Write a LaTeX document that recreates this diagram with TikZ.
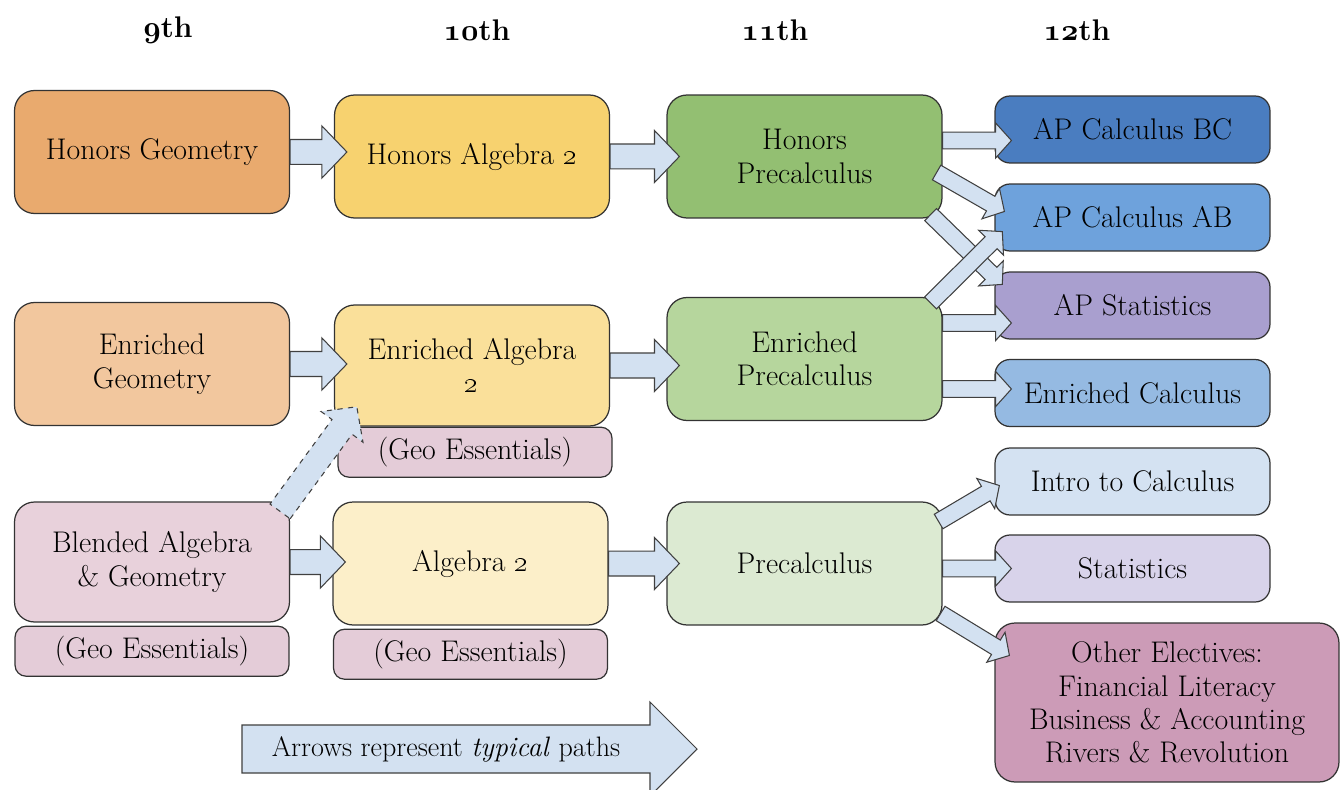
\documentclass[tikz,border=0pt]{standalone}
\usetikzlibrary{positioning,calc}
\definecolor{hgeoC}{HTML}{E9AA6E}
\definecolor{egeoC}{HTML}{F2C79E}
\definecolor{bgeoC}{HTML}{E8D1DB}
\definecolor{essC}{HTML}{E4CCD8}
\definecolor{halgC}{HTML}{F7D26F}
\definecolor{ealgC}{HTML}{FAE09A}
\definecolor{algC}{HTML}{FCEFC9}
\definecolor{hpreC}{HTML}{93BF72}
\definecolor{epreC}{HTML}{B6D69D}
\definecolor{preC}{HTML}{DCEAD2}
\definecolor{bcC}{HTML}{4A7DC0}
\definecolor{abC}{HTML}{6EA2DC}
\definecolor{apsC}{HTML}{A99FCF}
\definecolor{ecalcC}{HTML}{95BAE2}
\definecolor{introC}{HTML}{D4E2F2}
\definecolor{statC}{HTML}{D8D3EA}
\definecolor{otherC}{HTML}{CC9BB7}
\definecolor{flowC}{HTML}{D3E1F1}
\def\bw{7.1pt}\def\hw{14.8pt}\def\hl{14.2pt}
\newcommand{\osnb}[1]{{\usefont{OML}{cmm}{b}{it}#1}}
\tikzset{
	grade/.style={font=\bfseries\fontsize{17}{19}\selectfont},
	course/.style={rectangle, rounded corners=0.4cm, draw=black!80, 
		line width=0.7pt, minimum width=5.5cm, minimum height=2.46cm, 
		align=center, font=\fontsize{17}{19}\selectfont, inner sep=2pt},
	elective/.style={course, rounded corners=0.3cm, minimum height=1.34cm},
	essentials/.style={course, rounded corners=0.22cm, minimum width=5.48cm, 
		minimum height=1.0cm},
	flow/.style={draw=black!75, line width=0.6pt, fill=flowC, line join=miter},
	bigflow/.code={\def\bw{7.1pt}\def\hw{14.8pt}\def\hl{14.2pt}},
	smallflow/.code={\def\bw{4.8pt}\def\hw{10pt}\def\hl{9pt}}
}
% block arrow from #2 to #3
\newcommand{\flowarrow}[3][]{%
	\draw[flow,#1] let \p1=(#2), \p2=(#3),
		\n1={atan2(\y2-\y1,\x2-\x1)}, \n2={veclen(\x2-\x1,\y2-\y1)} in
		[shift={(\p1)}, rotate=\n1]
		(0pt,-\bw) -- (\n2-\hl,-\bw) -- (\n2-\hl,-\hw) -- (\n2,0pt)
		-- (\n2-\hl,\hw) -- (\n2-\hl,\bw) -- (0pt,\bw) -- cycle;}

\begin{document}
\begin{tikzpicture}[x=0.02cm, y=-0.02cm]
	\path[use as bounding box, fill=white] (0,0) rectangle (1341,790);
	
	% grades
	\node[grade] (g9) at (168,30) {\osnb{9}th};
	\node[grade] (g10) at (477,30) {\osnb{10}th};
	\node[grade] (g11) at (775,30) {\osnb{11}th};
	\node[grade] (g12) at (1077,30) {\osnb{12}th};
	
	% 9th
	\node[course, fill=hgeoC] (hgeo) at (152,152) {Honors Geometry};
	\node[course, fill=egeoC] (egeo) at (152,364) {Enriched\\Geometry};
	\node[course, fill=bgeoC, minimum height=2.4cm] (bgeo) at (152,562) {Blended Algebra\\\& Geometry};
	\node[essentials, fill=essC, below=0.06cm of bgeo] (geoA) {(Geo Essentials)};
	
	% 10th
	\node[course, fill=halgC] (halg) at (472,156.5) {Honors Algebra \oldstylenums{2}};
	\node[course, fill=ealgC, minimum height=2.42cm] (ealg) at (472,365.5) {Enriched Algebra\\\oldstylenums{2}};
	\node[essentials, fill=essC, below=0pt of ealg, xshift=0.06cm] (geoB) {(Geo Essentials)};
	\node[course, fill=algC] (alg) at (470.5,563.5) {Algebra \oldstylenums{2}};
	\node[essentials, fill=essC, below=0.06cm of alg] (geoC) {(Geo Essentials)};
	
	% 11th
	\node[course, fill=hpreC] (hpre) at (804.5,156.5) {Honors\\Precalculus};
	\node[course, fill=epreC] (epre) at (804.5,359) {Enriched\\Precalculus};
	\node[course, fill=preC] (pre) at (804.5,563.5) {Precalculus};
	
	% 12th
	\node[elective, fill=bcC] (bc) at (1132.5,129.5) {AP Calculus BC};
	\node[elective, fill=abC] (ab) at (1132.5,217.5) {AP Calculus AB};
	\node[elective, fill=apsC] (aps) at (1132.5,305.5) {AP Statistics};
	\node[elective, fill=ecalcC] (ecalc) at (1132.5,393) {Enriched Calculus};
	\node[elective, fill=introC] (intro) at (1132.5,481.5) {Intro to Calculus};
	\node[elective, fill=statC] (stat) at (1132.5,568.5) {Statistics};
	\node[course, fill=otherC, minimum width=6.88cm, minimum height=3.18cm] (other) at (1167,702.5)
		{Other Electives:\\Financial Literacy\\Business \& Accounting\\Rivers \& Revolution};
	
	% paths
	\flowarrow{hgeo.east}{$(hgeo.east -| halg.west)+(13,0)$}
	\flowarrow{halg.east}{$(halg.east -| hpre.west)+(13,0)$}
	\flowarrow{egeo.east}{$(egeo.east -| ealg.west)+(13,0)$}
	\flowarrow{ealg.east}{$(ealg.east -| epre.west)+(13,0)$}
	\flowarrow{bgeo.east}{$(bgeo.east -| alg.west)+(13,0)$}
	\flowarrow{alg.east}{$(alg.east -| pre.west)+(13,0)$}
	\flowarrow[dashed]{$(bgeo.north east)+(-10,10)$}{$(ealg.south west)+(23,-20)$}
	
	\flowarrow[smallflow]{$(hpre.east)+(0,-16)$}{$(hpre.east -| bc.west)+(17,-16)$}
	\flowarrow[smallflow]{$(hpre.east)+(-6,16)$}{$(ab.west)+(10,-6)$}
	\flowarrow[smallflow]{$(hpre.south east)+(-12,-4)$}{$(aps.west)+(8,-21)$}
	\flowarrow[smallflow]{$(epre.north east)+(-12,6)$}{$(ab.west)+(8,14)$}
	\flowarrow[smallflow]{$(epre.east)+(0,-36)$}{$(epre.east -| aps.west)+(17,-36)$}
	\flowarrow[smallflow]{$(epre.east)+(0,30)$}{$(epre.east -| ecalc.west)+(17,30)$}
	\flowarrow[smallflow]{$(pre.east)+(-4,-42)$}{$(intro.west)+(5,4)$}
	\flowarrow[smallflow]{$(pre.east)+(0,5)$}{$(pre.east -| stat.west)+(17,5)$}
	\flowarrow[smallflow]{$(pre.east)+(-2,50)$}{$(other.west)+(15,-47)$}
	
	% legend
	\draw[flow] (242,725) -- (650,725) -- (650,702) -- (697,749) -- (650,796)
		-- (650,773) -- (242,773) -- cycle;
	\node[font=\fontsize{16}{19}\selectfont] (legend) at (446,749) {Arrows represent \textit{typical} paths};
\end{tikzpicture}
\end{document}
